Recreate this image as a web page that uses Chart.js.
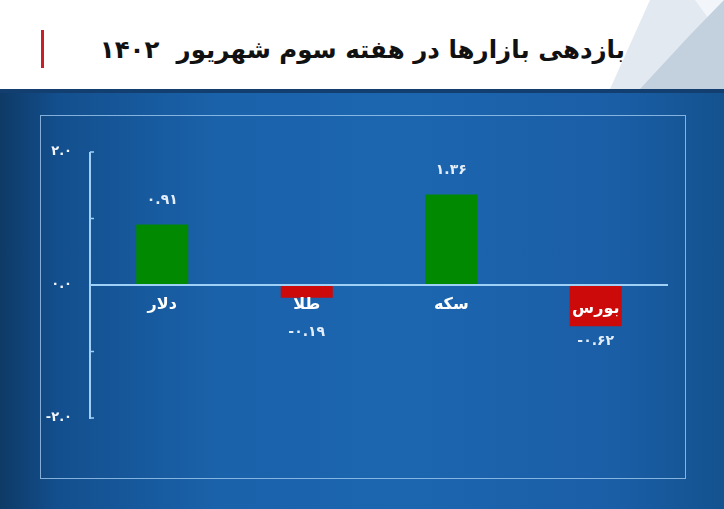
<!DOCTYPE html>
<html>
<head>
<meta charset="utf-8">
<script src="https://cdn.jsdelivr.net/npm/chart.js@4.4.0/dist/chart.umd.min.js"></script>
<style>
    html, body { margin: 0; padding: 0; }
    body { width: 724px; height: 509px; position: relative; overflow: hidden; background: #fff; font-family: "DejaVu Sans", sans-serif; }
    #header { position: absolute; left: 0; top: 0; width: 724px; height: 89px; background: #fff; }
    #deco { position: absolute; left: 0; top: 0; }
    #redbar { position: absolute; left: 41px; top: 30px; width: 3px; height: 38px; background: #c8202a; }
    #title { position: absolute; right: 99px; top: 32px; direction: rtl; font-size: 24.5px; font-weight: bold; color: #111; white-space: nowrap; line-height: 36px; }
    #board { position: absolute; left: 0; top: 89px; width: 724px; height: 420px;
        background: linear-gradient(90deg, #0e3a66 0%, #134f8e 8%, #1a62aa 30%, #1c66b0 55%, #1a5ea6 85%, #14528f 100%); }
    #board:before { content: ""; position: absolute; left: 0; top: 0; width: 100%; height: 4px; background: #123f70; }
    #panel { position: absolute; left: 40px; top: 26px; width: 644px; height: 362px; border: 1px solid rgba(170, 210, 245, 0.75); }
    #chart { position: absolute; left: 0; top: 0; }
</style>
</head>
<body>
<div id="header">
    <svg id="deco" width="724" height="89">
        <polygon points="650,0 724,0 724,89 610,89" fill="#e3e9f0"/>
        <polygon points="695,0 724,0 724,40" fill="#f2f5f9"/>
        <polygon points="690,35 724,0 724,89 640,89" fill="#c3d0de"/>
    </svg>
    <div id="redbar"></div>
    <div id="title">بازدهی بازارها در هفته سوم شهریور&nbsp;&nbsp;۱۴۰۲</div>
</div>
<div id="board">
    <div id="panel"></div>
    <canvas id="chart" width="724" height="420"></canvas>
</div>
<script>
var categories = ['دلار', 'طلا', 'سکه', 'بورس'];
var returns = [0.91, -0.19, 1.36, -0.62];
var tickValues = [-2, -1, 0, 1, 2];
var tickLabels = { '2': '۲.۰', '0': '۰.۰', '-2': '-۲.۰' };

function faDigits(s) {
    return String(s).replace(/[0-9]/g, function(d) { return '۰۱۲۳۴۵۶۷۸۹'[d]; });
}

var lineColor = '#9fd0f5';

var overlay = {
    id: 'overlay',
    afterDatasetsDraw: function(chart) {
        var ctx = chart.ctx;
        var y = chart.scales.y;
        var area = chart.chartArea;
        var zero = y.getPixelForValue(0);
        var top = y.getPixelForValue(2);
        var bottom = y.getPixelForValue(-2);
        ctx.save();

        // y axis, ticks point inward
        ctx.strokeStyle = lineColor;
        ctx.lineWidth = 2;
        ctx.beginPath();
        ctx.moveTo(area.left, top);
        ctx.lineTo(area.left, bottom + 1);
        ctx.stroke();
        ctx.lineWidth = 1.5;
        tickValues.forEach(function(v) {
            var py = y.getPixelForValue(v);
            ctx.beginPath();
            ctx.moveTo(area.left, py);
            ctx.lineTo(area.left + 4, py);
            ctx.stroke();
        });

        // zero line
        ctx.lineWidth = 2;
        ctx.beginPath();
        ctx.moveTo(area.left, zero);
        ctx.lineTo(area.right, zero);
        ctx.stroke();

        ctx.fillStyle = '#f2f6fb';
        ctx.font = 'bold 13px "DejaVu Sans"';
        ctx.textAlign = 'right';
        ctx.textBaseline = 'middle';
        tickValues.forEach(function(v) {
            if (tickLabels[v] !== undefined) {
                ctx.fillText(tickLabels[v], area.left - 18, y.getPixelForValue(v));
            }
        });

        // category and value labels
        var meta = chart.getDatasetMeta(0);
        ctx.textAlign = 'center';
        meta.data.forEach(function(bar, i) {
            var v = returns[i];
            var barEnd = y.getPixelForValue(v);
            var ly = zero + 20;
            if (barEnd > zero + 30) ly = (zero + barEnd) / 2 + 3;
            ctx.fillStyle = '#ffffff';
            ctx.font = 'bold 16px "DejaVu Sans"';
            ctx.fillText(categories[i], bar.x, ly);

            ctx.fillStyle = '#e4eefa';
            ctx.font = 'bold 14px "DejaVu Sans"';
            var vy = v >= 0 ? barEnd - 24 : Math.max(barEnd + 15, zero + 47);
            ctx.fillText(faDigits(v.toFixed(2)), bar.x, vy);
        });
        ctx.restore();
    }
};

new Chart(document.getElementById('chart'), {
    type: 'bar',
    data: {
        labels: categories,
        datasets: [{
            data: returns,
            backgroundColor: returns.map(function(v) { return v >= 0 ? '#018a01' : '#cc0a0a'; }),
            borderWidth: 0,
            barPercentage: 0.36,
            categoryPercentage: 1
        }]
    },
    options: {
        responsive: false,
        animation: false,
        layout: { padding: { left: 90, right: 56, top: 63, bottom: 91 } },
        plugins: { legend: { display: false }, tooltip: { enabled: false } },
        scales: {
            x: { display: false },
            y: { display: false, min: -2, max: 2 }
        }
    },
    plugins: [overlay]
});
</script>
</body>
</html>
